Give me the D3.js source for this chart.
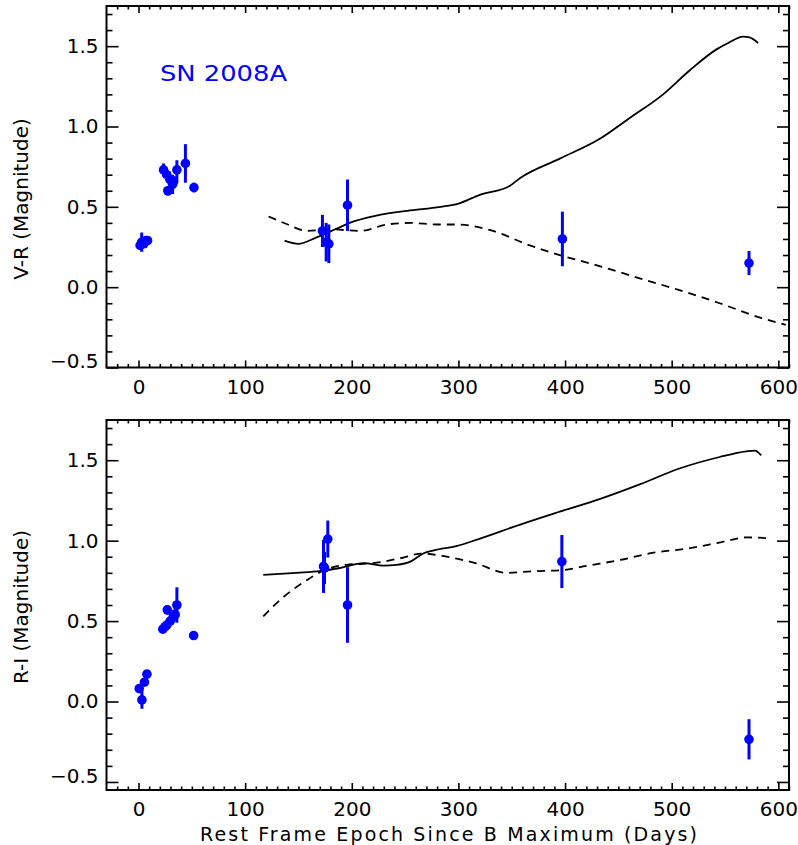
<!DOCTYPE html>
<html><head><meta charset="utf-8">
<script src="https://cdn.jsdelivr.net/npm/d3@7"></script>
<style>
html,body{margin:0;padding:0;background:#fff;}
svg{display:block;}
text{font-family:"DejaVu Sans",sans-serif;fill:#000;}
</style></head>
<body><svg id="c" width="798" height="845"></svg>
<script>
// ---------- data ----------
const xMajorTicks = [0, 100, 200, 300, 400, 500, 600];
const yMajorTicks = [-0.5, 0.0, 0.5, 1.0, 1.5];

// V-R observations (top panel)
const vrDays = [1.5, 3, 5, 7, 8.5, 23.5, 26.5, 27.5, 29.5, 32, 33, 36, 44, 52, 172.5, 176, 178.5, 196, 397.5, 572.5];
const vrVals = [0.26, 0.28, 0.27, 0.29, 0.29, 0.73, 0.70, 0.60, 0.67, 0.64, 0.66, 0.73, 0.77, 0.62, 0.35, 0.28, 0.27, 0.51, 0.30, 0.15];
const vrErrs = [0.02, 0.06, 0.02, 0.02, 0.02, 0.04, 0.03, 0.03, 0.03, 0.06, 0.03, 0.06, 0.12, 0.03, 0.10, 0.12, 0.12, 0.16, 0.17, 0.075];

// R-I observations (bottom panel)
const riDays = [0.7, 3.2, 5.6, 7.9, 22.8, 25, 26.5, 29.7, 27, 32.7, 34.4, 36, 51.7, 173.5, 174.4, 177.5, 196, 397, 572.5];
const riVals = [0.08, 0.01, 0.12, 0.17, 0.45, 0.465, 0.475, 0.50, 0.57, 0.53, 0.54, 0.60, 0.41, 0.84, 0.83, 1.01, 0.60, 0.87, -0.235];
const riErrs = [0.02, 0.055, 0.02, 0.02, 0.02, 0.02, 0.02, 0.02, 0.03, 0.04, 0.04, 0.11, 0.02, 0.165, 0.10, 0.115, 0.235, 0.165, 0.125];

// comparison curves
const vrSolidDays = [137, 150, 167, 186, 198, 223, 252, 283, 300, 320, 348, 358, 395, 433, 460, 492, 517, 542, 553, 567, 573, 581];
const vrSolidVals = [0.29, 0.27, 0.31, 0.365, 0.40, 0.445, 0.475, 0.50, 0.52, 0.575, 0.63, 0.68, 0.80, 0.925, 1.05, 1.20, 1.35, 1.48, 1.52, 1.56, 1.555, 1.52];
const vrDashDays = [122, 140, 158, 180, 208, 233, 255, 280, 300, 330, 367, 395, 433, 470, 508, 545, 583, 607];
const vrDashVals = [0.44, 0.39, 0.35, 0.36, 0.35, 0.39, 0.40, 0.39, 0.39, 0.355, 0.26, 0.20, 0.13, 0.055, -0.02, -0.10, -0.19, -0.235];

const riSolidDays = [117, 148, 170, 189, 211, 230, 242, 255, 267, 277, 298, 319, 358, 395, 433, 470, 508, 545, 570, 578, 584];
const riSolidVals = [0.787, 0.80, 0.81, 0.83, 0.86, 0.845, 0.85, 0.87, 0.92, 0.94, 0.966, 1.01, 1.10, 1.18, 1.26, 1.35, 1.45, 1.52, 1.555, 1.56, 1.53];
const riDashDays = [117, 136, 158, 172, 195, 220, 245, 266, 289, 316, 345, 370, 398, 417, 452, 483, 514, 546, 570, 592];
const riDashVals = [0.53, 0.65, 0.755, 0.81, 0.85, 0.86, 0.89, 0.92, 0.90, 0.86, 0.80, 0.81, 0.817, 0.84, 0.88, 0.925, 0.95, 0.99, 1.02, 1.015];

// ---------- drawing ----------
const svg = d3.select("#c");
const BLUE = "#0000ff";
const x = d3.scaleLinear().domain([-30, 610]).range([106.5, 789]);
const xMinor = d3.range(-20, 611, 10).filter(d => d % 100 !== 0);
const yMinorAll = d3.range(-5, 18).map(d => d / 10);

function panel(cfg) {
  const y = d3.scaleLinear().domain(cfg.ydom).range([cfg.bottom, cfg.top]);
  const g = svg.append("g");
  const x0 = x.range()[0], x1 = x.range()[1];
  const yMinor = yMinorAll.filter(d => d >= cfg.ydom[0] - 1e-9 && d <= cfg.ydom[1] && Math.abs(d * 2 - Math.round(d * 2)) > 1e-6);

  const strip = s => s.call(a => a.select(".domain").remove());
  // bottom axis
  g.append("g").attr("transform", `translate(0,${cfg.bottom})`)
    .call(d3.axisBottom(x).tickValues(xMajorTicks).tickSize(-7).tickPadding(12).tickFormat(d3.format("d")))
    .call(strip).call(a => a.selectAll("text").style("font-size", "20px").style("font-family", "DejaVu Sans"));
  g.append("g").attr("transform", `translate(0,${cfg.bottom})`)
    .call(d3.axisBottom(x).tickValues(xMinor).tickSize(-3.5).tickFormat("")).call(strip);
  // top axis
  g.append("g").attr("transform", `translate(0,${cfg.top})`)
    .call(d3.axisTop(x).tickValues(xMajorTicks).tickSize(-7).tickFormat("")).call(strip);
  g.append("g").attr("transform", `translate(0,${cfg.top})`)
    .call(d3.axisTop(x).tickValues(xMinor).tickSize(-3.5).tickFormat("")).call(strip);
  // left axis
  g.append("g").attr("transform", `translate(${x0},0)`)
    .call(d3.axisLeft(y).tickValues(yMajorTicks).tickSize(-12).tickPadding(8).tickFormat(d3.format(".1f")))
    .call(strip).call(a => {
      a.selectAll("text").style("font-size", "20px").style("font-family", "DejaVu Sans");
      a.selectAll(".tick").filter(d => d === -0.5).select("text").attr("y", -6);
    });
  g.append("g").attr("transform", `translate(${x0},0)`)
    .call(d3.axisLeft(y).tickValues(yMinor).tickSize(-6).tickFormat("")).call(strip);
  // right axis
  g.append("g").attr("transform", `translate(${x1},0)`)
    .call(d3.axisRight(y).tickValues(yMajorTicks).tickSize(-12).tickFormat("")).call(strip);
  g.append("g").attr("transform", `translate(${x1},0)`)
    .call(d3.axisRight(y).tickValues(yMinor).tickSize(-6).tickFormat("")).call(strip);
  g.selectAll(".tick line").attr("stroke", "#000").attr("stroke-width", 1.6);

  // frame
  g.append("rect").attr("x", x0).attr("y", cfg.top).attr("width", x1 - x0).attr("height", cfg.bottom - cfg.top)
    .attr("fill", "none").attr("stroke", "#000").attr("stroke-width", 2);

  // curves
  const line = d3.line().x(d => x(d[0])).y(d => y(d[1])).curve(d3.curveMonotoneX);
  g.append("path").datum(d3.zip(cfg.solidDays, cfg.solidVals)).attr("d", line)
    .attr("fill", "none").attr("stroke", "#000").attr("stroke-width", 1.8);
  g.append("path").datum(d3.zip(cfg.dashDays, cfg.dashVals)).attr("d", line)
    .attr("fill", "none").attr("stroke", "#000").attr("stroke-width", 1.8).attr("stroke-dasharray", "8,6");

  // observations
  const obs = d3.zip(cfg.days, cfg.vals, cfg.errs);
  g.append("g").selectAll("line").data(obs).join("line")
    .attr("x1", d => x(d[0])).attr("x2", d => x(d[0]))
    .attr("y1", d => y(d[1] - d[2])).attr("y2", d => y(d[1] + d[2]))
    .attr("stroke", BLUE).attr("stroke-width", 3);
  g.append("g").selectAll("circle").data(obs).join("circle")
    .attr("cx", d => x(d[0])).attr("cy", d => y(d[1])).attr("r", 4.8).attr("fill", BLUE);

  // y title
  svg.append("text").attr("transform", `translate(28,${cfg.titleY}) rotate(-90)`)
    .attr("text-anchor", "middle").style("font-size", "20px").text(cfg.title);
  return y;
}

panel({ top: 6, bottom: 367.5, ydom: [-0.5, 1.75], days: vrDays, vals: vrVals, errs: vrErrs,
  solidDays: vrSolidDays, solidVals: vrSolidVals, dashDays: vrDashDays, dashVals: vrDashVals,
  title: "V-R (Magnitude)", titleY: 199 });
panel({ top: 420, bottom: 790, ydom: [-0.55, 1.75], days: riDays, vals: riVals, errs: riErrs,
  solidDays: riSolidDays, solidVals: riSolidVals, dashDays: riDashDays, dashVals: riDashVals,
  title: "R-I (Magnitude)", titleY: 607 });

svg.append("text").attr("x", 160).attr("y", 81).attr("fill", BLUE).style("fill", BLUE)
  .style("font-size", "22px").attr("textLength", 127).attr("lengthAdjust", "spacingAndGlyphs").text("SN 2008A");

svg.append("text").attr("x", 448.5).attr("y", 841).attr("text-anchor", "middle")
  .style("font-size", "19px").attr("textLength", 497).attr("lengthAdjust", "spacing")
  .text("Rest Frame Epoch Since B Maximum (Days)");
</script></body></html>
